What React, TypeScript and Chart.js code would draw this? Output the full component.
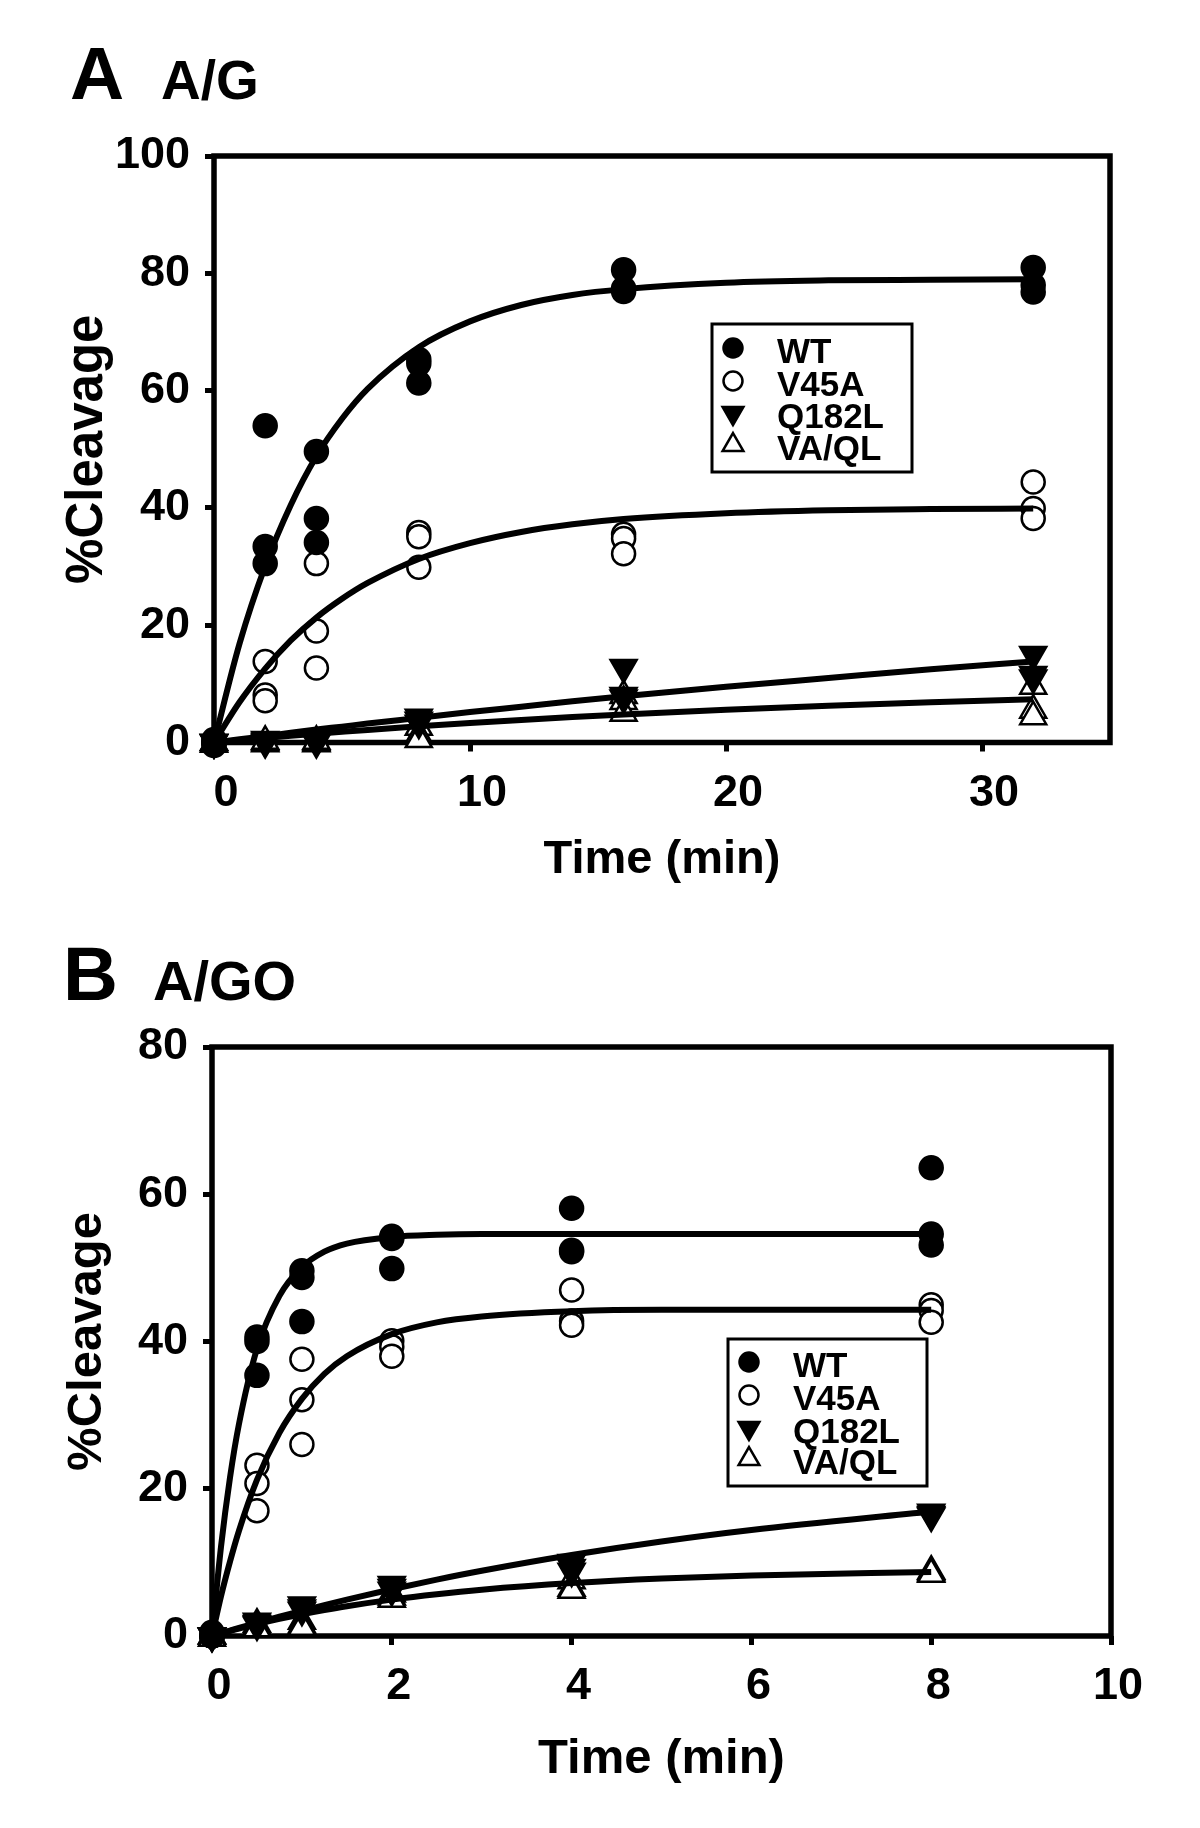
import React, { useEffect, useRef } from 'react';
import { Chart, registerables } from 'chart.js';

Chart.register(...registerables);

const FONT = "'Liberation Sans', Arial, Helvetica, sans-serif";

// ---------- shared ----------
const SERIES_NAMES = ['WT', 'V45A', 'Q182L', 'VA/QL'];
const AXIS_X_TITLE = 'Time (min)';
const AXIS_Y_TITLE = '%Cleavage';

// ---------- Panel A (A/G) ----------
const A_PANEL_LETTER = 'A';
const A_PANEL_TITLE = 'A/G';
const A_X_TICKS = [0, 10, 20, 30];
const A_Y_TICKS = [0, 20, 40, 60, 80, 100];
const A_TIMES = [0, 0, 0, 2, 2, 2, 4, 4, 4, 8, 8, 8, 16, 16, 16, 32, 32, 32];
const A_WT = [-0.5, 0, 0.5, 54.0, 33.4, 30.5, 49.6, 38.2, 34.1, 65.3, 64.6, 61.3, 80.6, 77.4, 76.9, 81.0, 78.0, 76.8];
const A_V45A = [0, 0, 0, 13.8, 8.1, 7.1, 30.5, 19.0, 12.7, 35.8, 35.1, 29.9, 35.5, 34.8, 32.2, 44.4, 39.9, 38.2];
const A_Q182L = [0, 0, 0, 0.5, 0.2, 0, 0.6, 0.3, 0, 4.3, 3.8, 3.3, 12.8, 8.0, 7.6, 15.0, 11.6, 11.0];
const A_VAQL = [0, 0, -0.3, 0, -0.2, 0.2, 0, -0.2, 0.2, 2.6, 1.2, 0.5, 8.0, 7.0, 5.0, 9.6, 5.5, 4.4];
// fitted curves
const A_FIT_T = [0, 1, 2, 3, 4, 5, 6, 8, 10, 12, 14, 16, 20, 24, 28, 32];
const A_FIT_WT = [0, 16.9, 30.1, 40.5, 48.8, 55.2, 60.3, 67.4, 71.8, 74.6, 76.3, 77.3, 78.4, 78.8, 78.9, 79.0];
const A_FIT_V45A = [0, 6.9, 12.6, 17.4, 21.3, 24.5, 27.2, 31.3, 34.0, 35.9, 37.2, 38.1, 39.1, 39.6, 39.8, 39.9];
const A_FIT_Q182L = [0, 0.56, 1.1, 1.66, 2.2, 2.71, 3.23, 4.2, 5.19, 6.1, 7.02, 7.9, 9.5, 11.0, 12.5, 13.8];
const A_FIT_VAQL = [0, 0.39, 0.77, 1.13, 1.48, 1.82, 2.15, 2.76, 3.32, 3.85, 4.33, 4.78, 5.58, 6.27, 6.86, 7.37];

// ---------- Panel B (A/GO) ----------
const B_PANEL_LETTER = 'B';
const B_PANEL_TITLE = 'A/GO';
const B_X_TICKS = [0, 2, 4, 6, 8, 10];
const B_Y_TICKS = [0, 20, 40, 60, 80];
const B_TIMES = [0, 0, 0, 0.5, 0.5, 0.5, 1, 1, 1, 2, 2, 2, 4, 4, 4, 8, 8, 8];
const B_WT = [0, 0, 0.5, 40.6, 40.0, 35.4, 49.6, 48.7, 42.7, 54.3, 54.0, 49.9, 58.1, 52.4, 52.2, 63.6, 54.6, 53.1];
const B_V45A = [0, 0, 0, 23.2, 20.7, 17.0, 37.6, 32.1, 26.0, 40.1, 39.3, 38.0, 47.0, 42.8, 42.2, 45.0, 44.2, 42.6];
const B_Q182L = [0, 0, 0, 2.0, 1.7, 1.5, 4.2, 3.8, 3.5, 7.0, 6.6, 6.2, 10.0, 9.3, 8.8, 16.8, 16.5, 16.3];
const B_VAQL = [0, 0, -0.3, 1.6, 1.3, 1.0, 2.0, 1.5, 1.2, 5.7, 5.3, 5.0, 7.5, 6.5, 6.2, 8.8, 8.6, 8.4];
const B_FIT_T = [0, 0.1, 0.2, 0.3, 0.5, 0.75, 1, 1.25, 1.5, 2, 2.5, 3, 4, 5, 6, 8];
const B_FIT_WT = [0, 12.1, 21.5, 28.8, 39.0, 46.2, 50.1, 52.2, 53.3, 54.2, 54.5, 54.6, 54.6, 54.6, 54.6, 54.6];
const B_FIT_V45A = [0, 5.4, 10.1, 14.3, 21.2, 27.6, 32.2, 35.6, 38.0, 41.0, 42.6, 43.4, 44.1, 44.3, 44.3, 44.3];
const B_FIT_Q182L = [0, 0.37, 0.73, 1.09, 1.78, 2.62, 3.42, 4.2, 4.95, 6.35, 7.66, 8.86, 11.0, 12.84, 14.4, 16.9];
const B_FIT_VAQL = [0, 0.35, 0.69, 1.01, 1.62, 2.32, 2.95, 3.52, 4.04, 4.94, 5.68, 6.29, 7.19, 7.81, 8.22, 8.7];

// marker look per series
const MARKERS: Array<{ style: string; rotation: number; fill: string }> = [
  { style: 'circle', rotation: 0, fill: '#000' },
  { style: 'circle', rotation: 0, fill: '#fff' },
  { style: 'triangle', rotation: 180, fill: '#000' },
  { style: 'triangle', rotation: 0, fill: '#fff' },
];

const pairs = (xs: number[], ys: number[]) => ys.map((y, i) => ({ x: xs[i], y }));

function drawMarker(ctx: CanvasRenderingContext2D, idx: number, x: number, y: number, rc: number, rt: number) {
  const m = MARKERS[idx];
  ctx.save();
  ctx.beginPath();
  if (m.style === 'circle') {
    ctx.arc(x, y, rc, 0, Math.PI * 2);
  } else {
    let rad = (m.rotation * Math.PI) / 180;
    for (let k = 0; k < 3; k++) {
      const px = x + Math.sin(rad) * rt;
      const py = y - Math.cos(rad) * rt;
      if (k === 0) ctx.moveTo(px, py);
      else ctx.lineTo(px, py);
      rad += (2 * Math.PI) / 3;
    }
    ctx.closePath();
  }
  ctx.fillStyle = m.fill;
  ctx.fill();
  ctx.lineWidth = 2.5;
  ctx.strokeStyle = '#000';
  ctx.stroke();
  ctx.restore();
}

const framePlugin = {
  id: 'frameBox',
  beforeDatasetsDraw(chart: any) {
    const { ctx, chartArea } = chart;
    ctx.save();
    ctx.strokeStyle = '#000';
    ctx.lineWidth = 5.5;
    ctx.strokeRect(chartArea.left, chartArea.top, chartArea.right - chartArea.left, chartArea.bottom - chartArea.top);
    ctx.restore();
  },
};

const boxLegendPlugin = {
  id: 'boxLegend',
  afterDatasetsDraw(chart: any, _args: any, opts: any) {
    if (!opts || !opts.rows) return;
    const { ctx } = chart;
    ctx.save();
    ctx.fillStyle = '#fff';
    ctx.fillRect(opts.left, opts.top, opts.width, opts.height);
    ctx.lineWidth = 3;
    ctx.strokeStyle = '#000';
    ctx.strokeRect(opts.left, opts.top, opts.width, opts.height);
    ctx.font = `bold ${opts.fontSize}px ${FONT}`;
    ctx.textBaseline = 'middle';
    ctx.textAlign = 'left';
    SERIES_NAMES.forEach((name, i) => {
      const y = opts.rows[i];
      drawMarker(ctx, i, opts.markerX, y - opts.markerDy, opts.rc, opts.rt);
      ctx.fillStyle = '#000';
      ctx.fillText(name, opts.textX, y);
    });
    ctx.restore();
  },
};

interface PanelSpec {
  times: number[];
  series: number[][];
  fitT: number[];
  fits: number[][];
  xMax: number;
  yMax: number;
  xTicks: number[];
  yTicks: number[];
  yWidth: number;
  xHeight: number;
  padTop: number;
  padRight: number;
  xTitleSize: number;
  xTitlePad: number;
  yTitleSize: number;
  yTitlePad: number;
  labelOffset: number;
  rc: number;
  rt: number;
  legend: any;
}

function buildConfig(p: PanelSpec): any {
  const tickFont = { family: FONT, size: 45, weight: 'bold' as const };
  const markerSets = p.series.map((ys, i) => ({
    label: SERIES_NAMES[i],
    data: pairs(p.times, ys),
    showLine: false,
    pointStyle: MARKERS[i].style,
    rotation: MARKERS[i].rotation,
    pointRadius: MARKERS[i].style === 'circle' ? p.rc : p.rt,
    pointBackgroundColor: MARKERS[i].fill,
    pointBorderColor: '#000',
    pointBorderWidth: 2.5,
    clip: false,
    order: 2,
  }));
  const fitSets = p.fits.map((ys, i) => ({
    label: SERIES_NAMES[i] + ' fit',
    data: pairs(p.fitT, ys),
    showLine: true,
    pointRadius: 0,
    borderColor: '#000',
    borderWidth: 6,
    cubicInterpolationMode: 'monotone',
    fill: false,
    order: 1,
  }));
  return {
    type: 'scatter',
    data: { datasets: [...markerSets, ...fitSets] },
    plugins: [framePlugin, boxLegendPlugin],
    options: {
      responsive: false,
      maintainAspectRatio: false,
      devicePixelRatio: 1,
      animation: false,
      events: [],
      layout: { padding: { left: 0, top: p.padTop, right: p.padRight, bottom: 0 } },
      plugins: {
        legend: { display: false },
        tooltip: { enabled: false },
        boxLegend: p.legend,
      },
      scales: {
        x: {
          type: 'linear',
          min: 0,
          max: p.xMax,
          afterFit: (s: any) => { s.height = p.xHeight; },
          afterBuildTicks: (s: any) => { s.ticks = p.xTicks.map((v) => ({ value: v })); },
          border: { display: false },
          grid: { display: true, drawOnChartArea: false, drawTicks: true, tickLength: 9, tickWidth: 5, tickColor: '#000', color: '#000' },
          ticks: { color: '#000', font: tickFont, padding: 15, labelOffset: p.labelOffset, maxRotation: 0, autoSkip: false, includeBounds: false },
          title: {
            display: true,
            text: AXIS_X_TITLE,
            color: '#000',
            font: { family: FONT, size: p.xTitleSize, weight: 'bold', lineHeight: 1 },
            padding: { top: 0, bottom: p.xTitlePad },
          },
        },
        y: {
          type: 'linear',
          min: 0,
          max: p.yMax,
          afterFit: (s: any) => { s.width = p.yWidth; },
          afterBuildTicks: (s: any) => { s.ticks = p.yTicks.map((v) => ({ value: v })); },
          border: { display: false },
          grid: { display: true, drawOnChartArea: false, drawTicks: true, tickLength: 9, tickWidth: 5, tickColor: '#000', color: '#000' },
          ticks: { color: '#000', font: tickFont, padding: 15, autoSkip: false, includeBounds: false },
          title: {
            display: true,
            text: AXIS_Y_TITLE,
            color: '#000',
            font: { family: FONT, size: p.yTitleSize, weight: 'bold', lineHeight: 1 },
            padding: { top: p.yTitlePad, bottom: 0 },
          },
        },
      },
    },
  };
}

const PANEL_A: PanelSpec = {
  times: A_TIMES,
  series: [A_WT, A_V45A, A_Q182L, A_VAQL],
  fitT: A_FIT_T,
  fits: [A_FIT_WT, A_FIT_V45A, A_FIT_Q182L, A_FIT_VAQL],
  xMax: 35,
  yMax: 100,
  xTicks: A_X_TICKS,
  yTicks: A_Y_TICKS,
  yWidth: 214,
  xHeight: 177.5,
  padTop: 56,
  padRight: 90,
  xTitleSize: 47,
  xTitlePad: 36,
  yTitleSize: 51,
  yTitlePad: 62,
  labelOffset: 12,
  rc: 11.5,
  rt: 15,
  legend: { left: 712, top: 224, width: 200, height: 148, markerX: 733, textX: 777, rows: [253, 286, 318, 350], markerDy: 5, fontSize: 35, rc: 9.5, rt: 12 },
};

const PANEL_B: PanelSpec = {
  times: B_TIMES,
  series: [B_WT, B_V45A, B_Q182L, B_VAQL],
  fitT: B_FIT_T,
  fits: [B_FIT_WT, B_FIT_V45A, B_FIT_Q182L, B_FIT_VAQL],
  xMax: 10,
  yMax: 80,
  xTicks: B_X_TICKS,
  yTicks: B_Y_TICKS,
  yWidth: 212,
  xHeight: 192,
  padTop: 57,
  padRight: 89,
  xTitleSize: 49,
  xTitlePad: 44,
  yTitleSize: 49,
  yTitlePad: 63,
  labelOffset: 7,
  rc: 11.5,
  rt: 15,
  legend: { left: 728, top: 349, width: 199, height: 147, markerX: 749, textX: 793, rows: [377, 410, 443, 474], markerDy: 5, fontSize: 35, rc: 9.5, rt: 12 },
};

function Panel({ spec, top, height }: { spec: PanelSpec; top: number; height: number }) {
  const ref = useRef<HTMLCanvasElement | null>(null);
  useEffect(() => {
    if (!ref.current) return;
    const chart = new Chart(ref.current, buildConfig(spec));
    return () => chart.destroy();
  }, [spec]);
  return (
    <canvas
      ref={ref}
      width={1200}
      height={height}
      style={{ position: 'absolute', left: 0, top, width: 1200, height }}
    />
  );
}

const labelStyle = (left: number, top: number, size: number): React.CSSProperties => ({
  position: 'absolute',
  left,
  top,
  fontSize: size,
  lineHeight: `${size}px`,
  fontWeight: 'bold',
  fontFamily: FONT,
  color: '#000',
  whiteSpace: 'nowrap',
});

export default function App() {
  return (
    <div style={{ position: 'absolute', left: 0, top: 0, width: 1200, height: 1828, background: '#fff', overflow: 'hidden' }}>
      <div style={labelStyle(70, 36, 75)}>{A_PANEL_LETTER}</div>
      <div style={labelStyle(161, 53, 55)}>{A_PANEL_TITLE}</div>
      <Panel spec={PANEL_A} top={100} height={820} />
      <div style={labelStyle(63, 936, 76)}>{B_PANEL_LETTER}</div>
      <div style={labelStyle(153, 953, 56)}>{B_PANEL_TITLE}</div>
      <Panel spec={PANEL_B} top={990} height={838} />
    </div>
  );
}
